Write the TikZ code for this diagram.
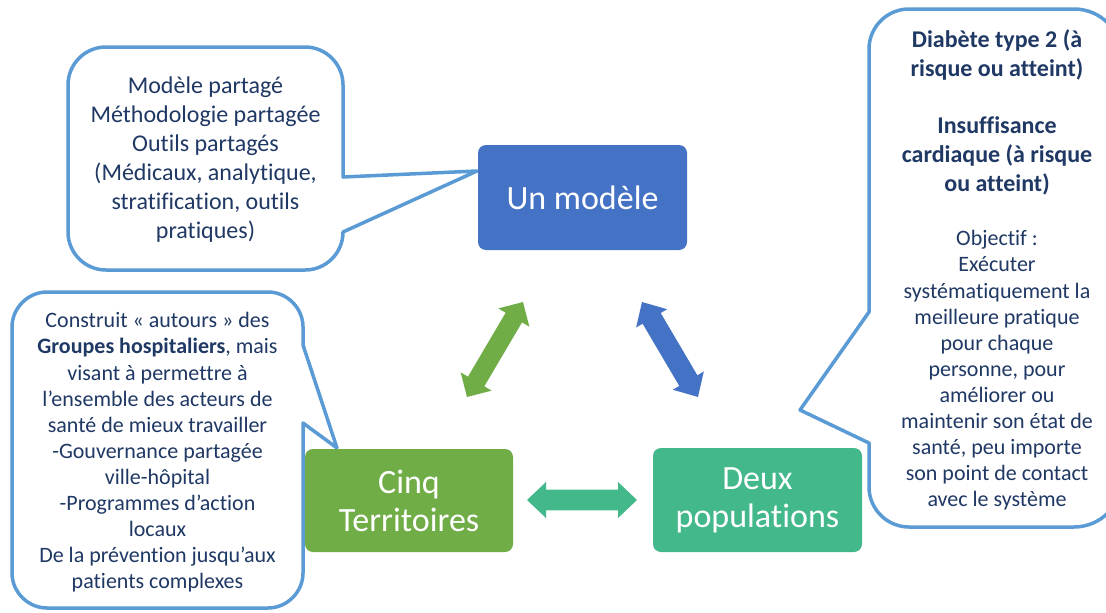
\documentclass[tikz,border=0pt]{standalone}
\usepackage{fontspec}
\setmainfont{Carlito}[Ligatures=NoCommon]
\usetikzlibrary{calc}
\definecolor{navy}{HTML}{1F3864}
\definecolor{callblue}{HTML}{5B9BD5}
\definecolor{boxblue}{HTML}{4472C4}
\definecolor{boxgreen}{HTML}{70AD47}
\definecolor{boxteal}{HTML}{43B98B}
% #1 from, #2 to, #3 shaft half width, #4 head half width, #5 head length, #6 colour
\newcommand\blockarr[6]{%
  \fill[#6] let \p1=(#1), \p2=(#2),
    \n1={atan2(\y2-\y1,\x2-\x1)}, \n2={veclen(\x2-\x1,\y2-\y1)} in
    [shift={(\p1)}, rotate=\n1]
    (0,0) -- (#5,#4) -- (#5,#3) -- (\n2-#5,#3) -- (\n2-#5,#4) -- (\n2,0)
    -- (\n2-#5,-#4) -- (\n2-#5,-#3) -- (#5,-#3) -- (#5,-#4) -- cycle;}
\begin{document}
\begin{tikzpicture}[x=1pt,y=-1pt,
  callout/.style={draw=callblue, line width=3.5pt, fill=white, line join=round},
  mainbox/.style={rounded corners=8pt, inner sep=0pt, text=white, align=center,
    font=\fontsize{34}{38}\selectfont, minimum width=209pt, minimum height=104pt},
  ctext/.style={text=navy, align=center, inner sep=0pt},
  bigtext/.style={ctext, font=\fontsize{24}{29}\selectfont},
  smalltext/.style={ctext, font=\fontsize{22}{26.1}\selectfont},
  boldtext/.style={ctext, font=\fontsize{24}{29}\selectfont\bfseries}]
\useasboundingbox[fill=white] (0,0) rectangle (1106,613);

% callout 1 (top left)
\draw[callout] (106,47) -- (305,47) .. controls (326,47) and (343,64) .. (343,85)
  -- (343,177) -- (477,171) -- (343,232)
  .. controls (343,253) and (326,270) .. (305,270) -- (106,270)
  .. controls (85,270) and (68,253) .. (68,232) -- (68,85)
  .. controls (68,64) and (85,47) .. cycle;
% callout 2 (bottom left)
\draw[callout] (47,292) -- (268,292) .. controls (287,292) and (303,308) .. (303,327)
  -- (303,345) -- (337,448) -- (303,423) -- (303,573)
  .. controls (303,592) and (287,608) .. (268,608) -- (47,608)
  .. controls (28,608) and (12,592) .. (12,573) -- (12,327)
  .. controls (12,308) and (28,292) .. cycle;
% callout 3 (right)
\draw[callout] (909,9) -- (1074,9) .. controls (1100.5,9) and (1122,30.5) .. (1122,57)
  -- (1122,479) .. controls (1122,505.5) and (1100.5,527) .. (1074,527) -- (909,527)
  .. controls (887,527) and (869,509) .. (869,487) -- (869,443) -- (800,410) -- (869,312)
  -- (869,49) .. controls (869,27) and (887,9) .. cycle;

% main boxes
\node[mainbox, fill=boxblue, minimum height=105pt] (modele) at (582.5,197.5) {Un modèle};
\node[mainbox, fill=boxgreen, minimum width=208pt, minimum height=103pt] (terr) at (409,500.5) {Cinq\\Territoires};
\node[mainbox, fill=boxteal] (pop) at (757.5,500) {Deux\\populations};

% callout texts
\node[bigtext] (t1) at (205.5,159.5) {Modèle partagé\\Méthodologie partagée\\Outils partagés\\(Médicaux, analytique,\\stratification, outils\\pratiques)};
\node[smalltext] (t2) at (157.5,452.5) {Construit «~autours~» des\\\textbf{Groupes hospitaliers}, mais\\visant à permettre à\\l’ensemble des acteurs de\\santé de mieux travailler\\-Gouvernance partagée\\ville-hôpital\\-Programmes d’action\\locaux\\De la prévention jusqu’aux\\patients complexes};
\node[boldtext] (t3a) at (997,54.5) {Diabète type 2 (à\\risque ou atteint)};
\node[boldtext] (t3b) at (997,156) {Insuffisance\\cardiaque (à risque\\ou atteint)};
\node[smalltext] (t3c) at (997,370.5) {Objectif~:\\Exécuter\\systématiquement la\\meilleure pratique\\pour chaque\\personne, pour\\améliorer ou\\maintenir son état de\\santé, peu importe\\son point de contact\\avec le système};

% block arrows
\coordinate (ga) at (467,397);
\coordinate (gb) at (523,302);
\coordinate (ba) at (642,302);
\coordinate (bb) at (698,397);
\coordinate (ta) at (527,500);
\coordinate (tb) at (637,500);
\blockarr{ga}{gb}{9.5}{18}{18}{boxgreen}
\blockarr{ba}{bb}{10.5}{18}{19}{boxblue}
\blockarr{ta}{tb}{10.3}{18}{19}{boxteal}
\end{tikzpicture}
\end{document}
